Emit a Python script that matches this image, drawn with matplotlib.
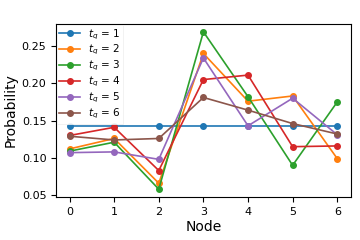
import matplotlib
matplotlib.use("Agg")
import matplotlib.pyplot as plt

nodes = [0, 1, 2, 3, 4, 5, 6]
labels = ["$t_q$ = 1", "$t_q$ = 2", "$t_q$ = 3", "$t_q$ = 4", "$t_q$ = 5", "$t_q$ = 6"]
tq1 = [0.1429, 0.1429, 0.1429, 0.1429, 0.1429, 0.1429, 0.1429]
tq2 = [0.112, 0.126, 0.066, 0.240, 0.176, 0.183, 0.099]
tq3 = [0.109, 0.121, 0.058, 0.269, 0.182, 0.090, 0.175]
tq4 = [0.130, 0.141, 0.083, 0.205, 0.211, 0.115, 0.116]
tq5 = [0.107, 0.108, 0.098, 0.234, 0.143, 0.180, 0.131]
tq6 = [0.129, 0.124, 0.126, 0.181, 0.164, 0.146, 0.132]
series = [tq1, tq2, tq3, tq4, tq5, tq6]

fig = plt.figure(figsize=(3.6, 2.4), dpi=100)
ax = fig.add_axes([0.156, 0.179, 0.818, 0.721])
for vals, lab in zip(series, labels):
    ax.plot(nodes, vals, marker='o', markersize=4, linewidth=1.2, label=lab)

ax.set_xticks(nodes)
ax.tick_params(labelsize=8)
ax.set_xlabel("Node", fontsize=10, labelpad=2)
ax.set_ylabel("Probability", fontsize=10, labelpad=3)
leg = ax.legend(loc="upper left", fontsize=7.5, handlelength=2.0, labelspacing=0.15,
                borderpad=0.25, handletextpad=0.8, borderaxespad=0.05,
                framealpha=0.9, edgecolor='#eeeeee', fancybox=False)
leg.get_frame().set_linewidth(0.6)
fig.savefig("out.png", dpi=100)
